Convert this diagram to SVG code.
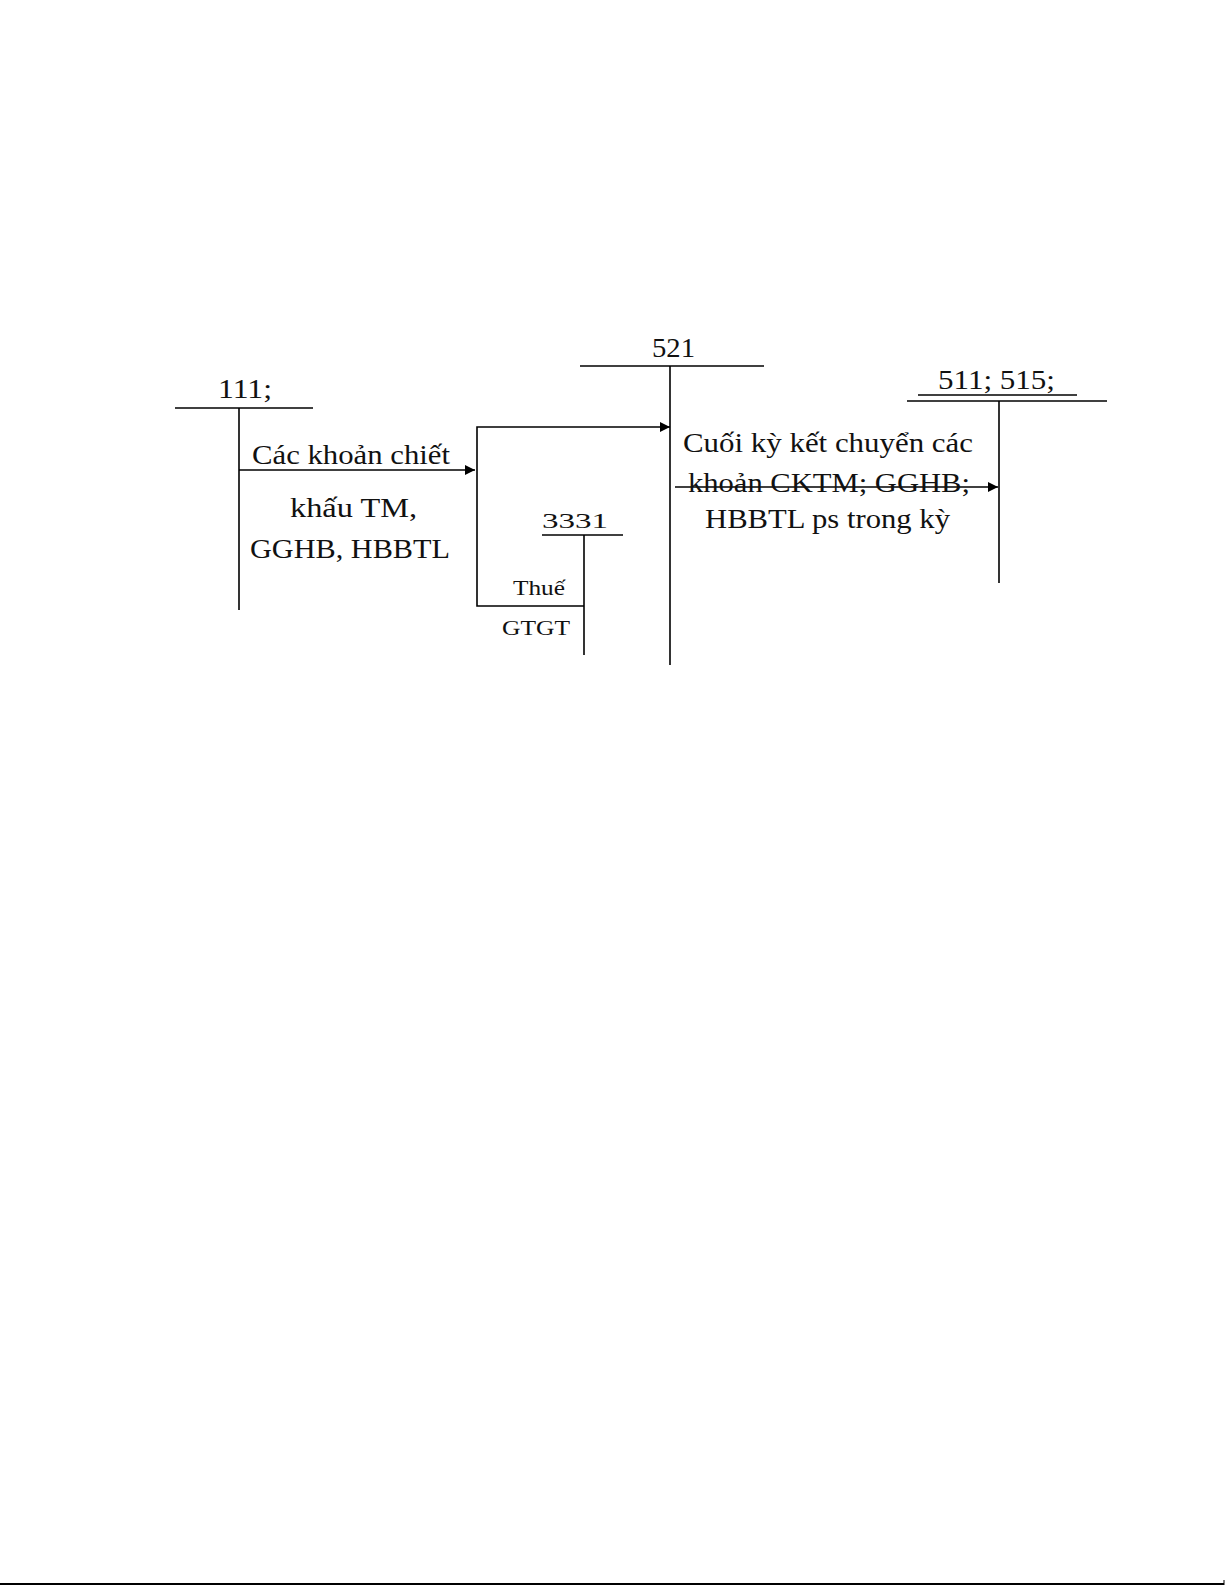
<svg xmlns="http://www.w3.org/2000/svg" width="1225" height="1585" viewBox="0 0 1225 1585">
<style>
.ln{stroke:#000;stroke-width:1.6;fill:none}
.t{font-family:"Liberation Serif","Times New Roman",serif;fill:#111}
.big{font-size:28px}
.sm{font-size:21px}
</style>
<defs>
<marker id="ah" viewBox="0 0 10 10" refX="10" refY="5" markerWidth="13" markerHeight="10" markerUnits="userSpaceOnUse" orient="auto">
<path d="M0,0 L10,5 L0,10 Z" fill="#000"/>
</marker>
</defs>
<rect width="1225" height="1585" fill="#fff"/>
<g id="acc111">
<text class="t big" x="218" y="398" textLength="54" lengthAdjust="spacingAndGlyphs">111;</text>
<line class="ln" x1="175" y1="408" x2="313" y2="408"/>
<line class="ln" x1="239" y1="408" x2="239" y2="610"/>
</g>
<g id="acc521">
<text class="t big" x="652" y="357" textLength="43" lengthAdjust="spacingAndGlyphs">521</text>
<line class="ln" x1="580" y1="366" x2="764" y2="366"/>
<line class="ln" x1="670" y1="366" x2="670" y2="665"/>
</g>
<g id="acc3331">
<text class="t sm" x="542" y="528" textLength="66" lengthAdjust="spacingAndGlyphs">3331</text>
<line class="ln" x1="542" y1="535" x2="623" y2="535"/>
<line class="ln" x1="584" y1="535" x2="584" y2="655"/>
</g>
<g id="acc511">
<text class="t big" x="938" y="389" textLength="117" lengthAdjust="spacingAndGlyphs">511; 515;</text>
<line class="ln" x1="918" y1="395" x2="1077" y2="395" style="stroke-width:1.3"/>
<line class="ln" x1="907" y1="401" x2="1107" y2="401"/>
<line class="ln" x1="999" y1="401" x2="999" y2="583"/>
</g>
<g id="connectors">
<line class="ln" x1="239" y1="470" x2="475" y2="470" marker-end="url(#ah)"/>
<polyline class="ln" points="584,606 477,606 477,427 670,427" marker-end="url(#ah)"/>
<line class="ln" x1="675" y1="487" x2="998" y2="487" marker-end="url(#ah)"/>
</g>
<g id="labels">
<text class="t big" x="252" y="464" textLength="198" lengthAdjust="spacingAndGlyphs">Các khoản chiết</text>
<text class="t big" x="290" y="517" textLength="127" lengthAdjust="spacingAndGlyphs">khấu TM,</text>
<text class="t big" x="250" y="558" textLength="200" lengthAdjust="spacingAndGlyphs">GGHB, HBBTL</text>
<text class="t sm" x="513" y="595" textLength="52" lengthAdjust="spacingAndGlyphs">Thuế</text>
<text class="t sm" x="502" y="635" textLength="68" lengthAdjust="spacingAndGlyphs">GTGT</text>
<text class="t big" x="683" y="452" textLength="290" lengthAdjust="spacingAndGlyphs">Cuối kỳ kết chuyển các</text>
<text class="t big" x="688" y="492" textLength="282" lengthAdjust="spacingAndGlyphs">khoản CKTM; GGHB;</text>
<text class="t big" x="705" y="528" textLength="245" lengthAdjust="spacingAndGlyphs">HBBTL ps trong kỳ</text>
</g>
<line x1="0" y1="1584" x2="1224" y2="1584" stroke="#000" stroke-width="2"/>
<line x1="1224" y1="1580" x2="1224" y2="1585" stroke="#000" stroke-width="1"/>
</svg>
